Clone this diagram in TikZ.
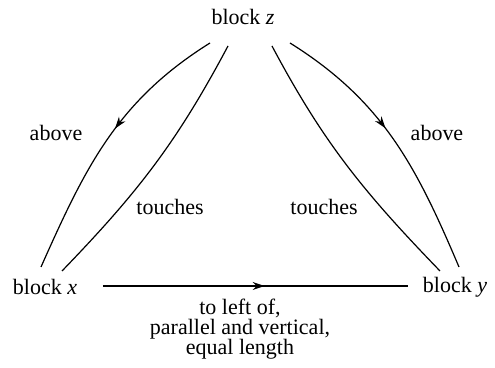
\documentclass[tikz,border=0pt]{standalone}
\usepackage{fontspec}
\setmainfont{Liberation Serif}
\usetikzlibrary{arrows.meta,decorations.markings}
\begin{document}
\begin{tikzpicture}[x=0.5pt,y=-0.5pt,
  lbl/.style={font=\fontsize{11}{12.5}\selectfont, inner sep=0pt},
  conn/.style={line width=0.6pt},
  midarrow/.style={postaction={decorate},decoration={markings,
    mark=at position #1 with {\arrow{Stealth[length=6pt,width=4pt]}}}}
  ]
\useasboundingbox (0,0) rectangle (495,368);
% blocks
\node[lbl] (z) at (243,17) {block \textit{z}};
\node[lbl] (x) at (45,287) {block \textit{x}};
\node[lbl] (y) at (455,287) {block \textit{y}};
% labels
\node[lbl] (aL) at (56,133) {above};
\node[lbl] (aR) at (437,133) {above};
\node[lbl] (tL) at (170,207) {touches};
\node[lbl] (tR) at (324,207) {touches};
\node[lbl, align=center, font=\fontsize{11}{10}\selectfont] (h) at (240,329) {to left of,\\parallel and vertical,\\equal length};
% endpoints
\coordinate (zA) at (210,43);
\coordinate (zC) at (228,46);
\coordinate (zG) at (272,46);
\coordinate (zE) at (290,43);
\coordinate (xB) at (41,267);
\coordinate (xD) at (62,271);
\coordinate (yF) at (459,267);
\coordinate (yH) at (440,271);
\coordinate (xR) at (103,286);
\coordinate (yL) at (408,286);
% connectors
\draw[conn, midarrow=0.45] (zA) to[out=212,in=66] (xB);
\draw[conn] (zC) to[out=242,in=46] (xD);
\draw[conn] (zG) to[out=298,in=134] (yH);
\draw[conn, midarrow=0.45] (zE) to[out=328,in=113] (yF);
\draw[line width=0.75pt, midarrow=0.53] (xR) -- (yL);
\end{tikzpicture}
\end{document}
